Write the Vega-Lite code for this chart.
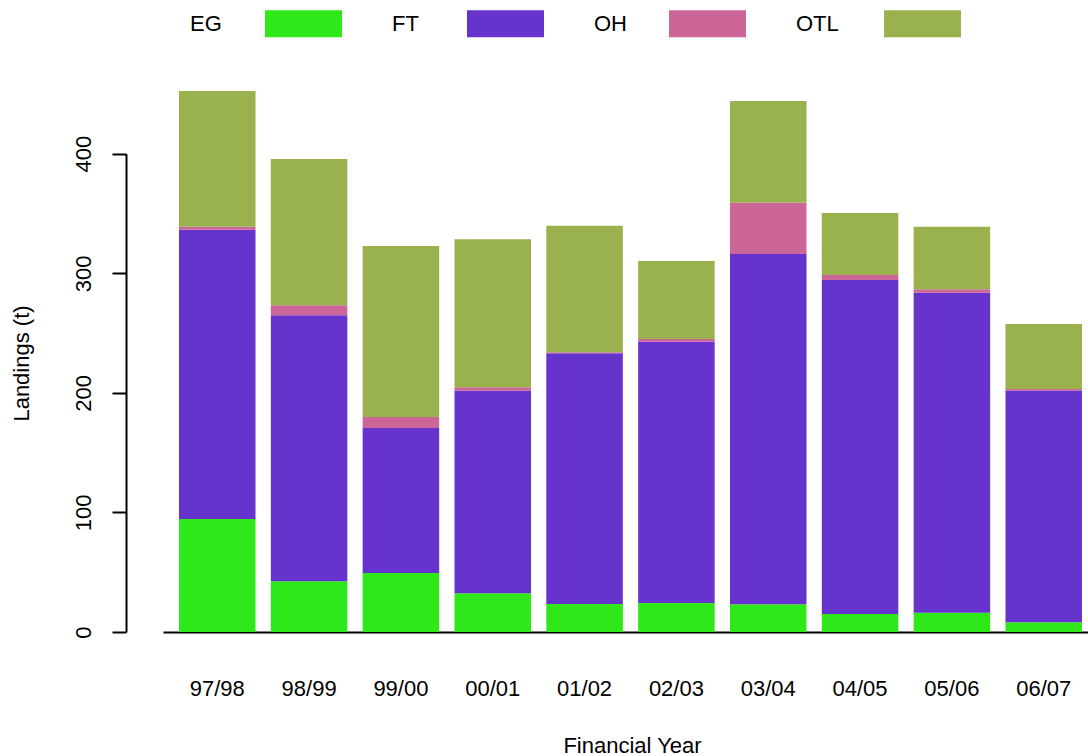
{
  "$schema": "https://vega.github.io/schema/vega-lite/v6.json",
  "width": 925,
  "height": 562,
  "autosize": {"type": "none"},
  "padding": {"left": 163, "top": 70, "right": 0, "bottom": 124},
  "background": "white",
  "config": {"view": {"stroke": null}, "font": "Liberation Sans"},
  "data": {
    "values": [
      {"year": "97/98", "type": "EG", "landings": 94.5},
      {"year": "97/98", "type": "FT", "landings": 241.9},
      {"year": "97/98", "type": "OH", "landings": 2.6},
      {"year": "97/98", "type": "OTL", "landings": 113.4},
      {"year": "98/99", "type": "EG", "landings": 42.4},
      {"year": "98/99", "type": "FT", "landings": 222.5},
      {"year": "98/99", "type": "OH", "landings": 8.3},
      {"year": "98/99", "type": "OTL", "landings": 122.4},
      {"year": "99/00", "type": "EG", "landings": 49.3},
      {"year": "99/00", "type": "FT", "landings": 121.3},
      {"year": "99/00", "type": "OH", "landings": 9.2},
      {"year": "99/00", "type": "OTL", "landings": 143.0},
      {"year": "00/01", "type": "EG", "landings": 32.4},
      {"year": "00/01", "type": "FT", "landings": 169.4},
      {"year": "00/01", "type": "OH", "landings": 2.8},
      {"year": "00/01", "type": "OTL", "landings": 123.8},
      {"year": "01/02", "type": "EG", "landings": 23.4},
      {"year": "01/02", "type": "FT", "landings": 209.7},
      {"year": "01/02", "type": "OH", "landings": 0.9},
      {"year": "01/02", "type": "OTL", "landings": 105.8},
      {"year": "02/03", "type": "EG", "landings": 24.3},
      {"year": "02/03", "type": "FT", "landings": 218.5},
      {"year": "02/03", "type": "OH", "landings": 2.2},
      {"year": "02/03", "type": "OTL", "landings": 65.3},
      {"year": "03/04", "type": "EG", "landings": 23.2},
      {"year": "03/04", "type": "FT", "landings": 292.9},
      {"year": "03/04", "type": "OH", "landings": 42.9},
      {"year": "03/04", "type": "OTL", "landings": 85.1},
      {"year": "04/05", "type": "EG", "landings": 15.1},
      {"year": "04/05", "type": "FT", "landings": 279.3},
      {"year": "04/05", "type": "OH", "landings": 4.2},
      {"year": "04/05", "type": "OTL", "landings": 51.8},
      {"year": "05/06", "type": "EG", "landings": 16.1},
      {"year": "05/06", "type": "FT", "landings": 267.7},
      {"year": "05/06", "type": "OH", "landings": 2.8},
      {"year": "05/06", "type": "OTL", "landings": 52.4},
      {"year": "06/07", "type": "EG", "landings": 8.1},
      {"year": "06/07", "type": "FT", "landings": 193.9},
      {"year": "06/07", "type": "OH", "landings": 1.2},
      {"year": "06/07", "type": "OTL", "landings": 54.4}
    ]
  },
  "mark": {"type": "bar"},
  "encoding": {
    "x": {
      "field": "year",
      "type": "nominal",
      "sort": null,
      "scale": {"paddingInner": 0.16667, "paddingOuter": 0.1198, "align": 0.727},
      "axis": {
        "title": "Financial Year",
        "labelAngle": 0,
        "ticks": false,
        "tickSize": 0,
        "labelPadding": 63,
        "labelBaseline": "alphabetic",
        "labelFontSize": 22,
        "labelColor": "black",
        "domainColor": "black",
        "domainWidth": 2,
        "titleFontSize": 22,
        "titleFontWeight": "normal",
        "titleColor": "black",
        "titleX": 469,
        "titleY": 120,
        "titleAlign": "center",
        "titleBaseline": "alphabetic"
      }
    },
    "y": {
      "field": "landings",
      "type": "quantitative",
      "stack": "zero",
      "scale": {"domain": [0, 470], "nice": false, "zero": true},
      "axis": {
        "title": "Landings (t)",
        "values": [0, 100, 200, 300, 400],
        "offset": 37,
        "grid": false,
        "tickSize": 14,
        "tickWidth": 2,
        "tickColor": "black",
        "domainColor": "black",
        "domainWidth": 2,
        "domainDash": [478.3, 2000],
        "labelAngle": -90,
        "labelAlign": "center",
        "labelBaseline": "alphabetic",
        "labelPadding": 22,
        "labelFontSize": 22,
        "labelColor": "black",
        "labelFlush": false,
        "labelOverlap": false,
        "titleFontSize": 22,
        "titleFontWeight": "normal",
        "titleColor": "black",
        "titleAngle": -90,
        "titleX": -98,
        "titleY": 293,
        "titleAlign": "center",
        "titleBaseline": "alphabetic"
      }
    },
    "order": {"field": "type", "sort": "ascending"},
    "color": {
      "field": "type",
      "type": "nominal",
      "scale": {
        "domain": ["EG", "FT", "OH", "OTL"],
        "range": ["#2FE81A", "#6633CC", "#CC6699", "#99B24D"]
      },
      "legend": {
        "title": null,
        "orient": "none",
        "legendX": 5,
        "legendY": -57.5,
        "direction": "horizontal",
        "symbolType": "M86,-13.5H163V13.5H86Z",
        "symbolSize": 4,
        "symbolStrokeWidth": 0,
        "symbolOpacity": 1,
        "labelOffset": 0,
        "labelFontSize": 22,
        "labelColor": "black",
        "labelLimit": 0,
        "columnPadding": 28,
        "encode": {
          "symbols": {
            "update": {
              "shape": {"signal": "datum.value === 'OTL' ? 'M99,-13.5H176V13.5H99Z' : 'M86,-13.5H163V13.5H86Z'"}
            }
          }
        }
      }
    }
  }
}
